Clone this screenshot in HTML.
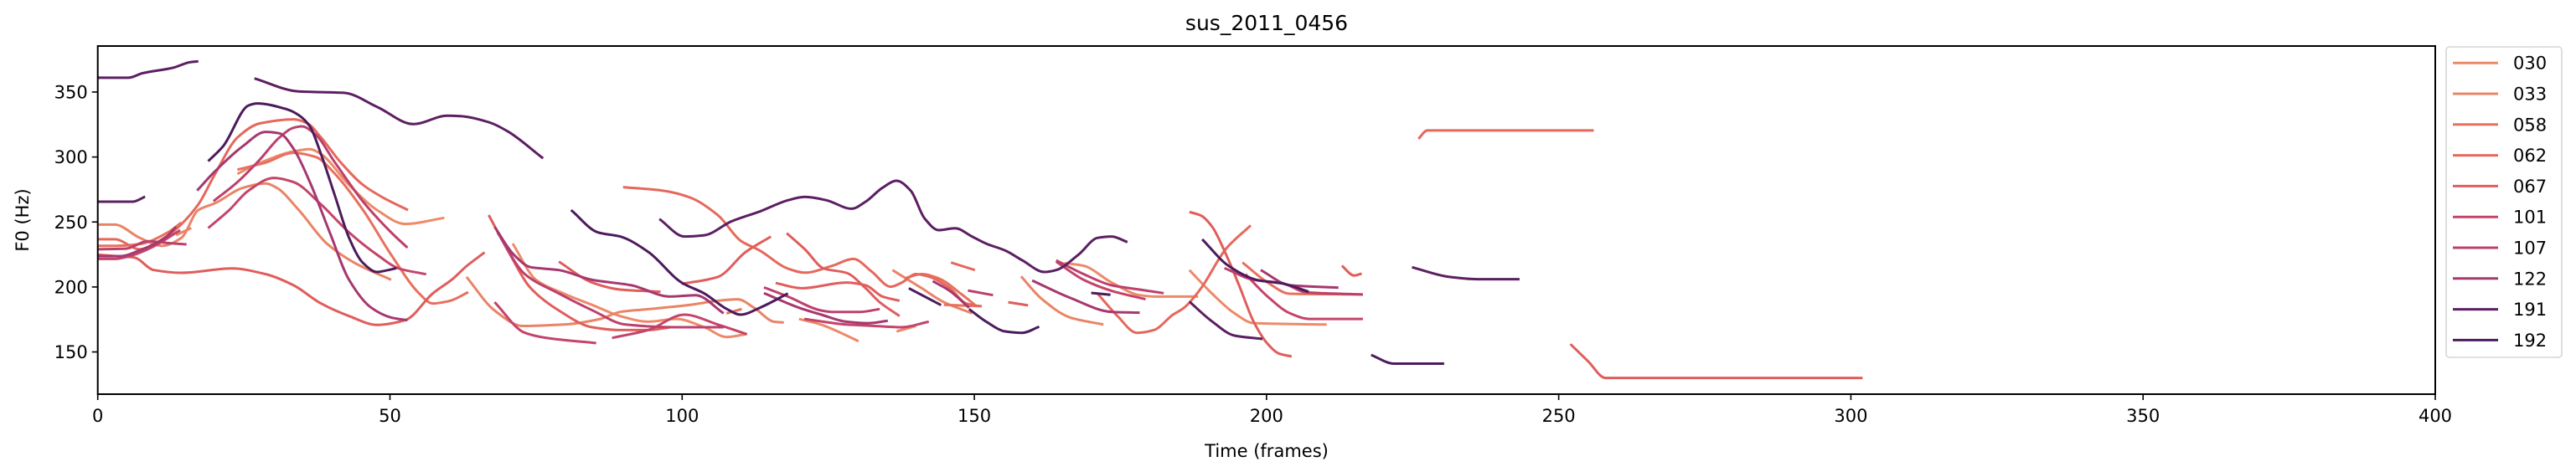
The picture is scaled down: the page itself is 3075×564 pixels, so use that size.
<!DOCTYPE html>
<html><head><meta charset="utf-8"><style>
html,body{margin:0;padding:0;background:#fff;}
svg{display:block;font-family:"DejaVu Sans","Liberation Sans",sans-serif;}
</style></head><body>
<svg id="chart" width="3075" height="564" viewBox="0 0 3075 564" xmlns="http://www.w3.org/2000/svg">
<text x="1512" y="36" font-size="25" text-anchor="middle">sus_2011_0456</text>
<g id="plot"></g>
<rect x="116.7" y="55" width="2790.3" height="416" fill="none" stroke="#000" stroke-width="2"/>
<g id="xt"></g>
<g id="yt"></g>
<text x="1512" y="546" font-size="21" text-anchor="middle">Time (frames)</text>
<text x="0" y="0" font-size="21" text-anchor="middle" transform="translate(34,263) rotate(-90)">F0 (Hz)</text>
<g id="legend"></g>
</svg>
<script>
const seriesNames = ["030","033","058","062","067","101","107","122","191","192"];
const seriesColors = ["#ec8a69","#ea8466","#e8705f","#e5685c","#df5e5c","#c4446a","#bd406c","#a6386f","#5b1f62","#4c1b5c"];
const xTicks = [0,50,100,150,200,250,300,350,400];
const yTicks = [150,200,250,300,350];
const s030 = [
 [[23.9,287],[26.8,293.6],[33.5,304.3],[36.3,306],[38.2,302.2],[43,278.5],[47.8,259.2],[52.6,248.5],[59.3,253.2]],
 [[71,233.4],[75,205.5],[79.8,194.8],[84.6,186.2],[89.4,177.6],[94.2,173.3],[99,175.4],[103.8,169],[107.6,161.5],[110.9,163.6]],
 [[120,175.4],[123.8,171],[127,165],[130.2,158.2]],
 [[136.7,165.8],[140,170]],
 [[165.4,218.4],[168.7,216.3],[173.5,203.4],[178.3,193.7],[181,192.6],[188.3,192.6]],
 [[186.8,213],[190.7,194.8],[194.5,179.8],[197.8,172.2],[210.3,171.1]]
];
const s033 = [
 [[0,248],[2.9,248],[7.2,237.8],[11,231.7],[14.3,237.8],[17.2,259.2],[20.1,264.5],[24.9,276.4],[28.7,279.6],[30.6,276.4],[34.4,259.2],[39.2,233.4],[44,218.4],[50.2,205.5]],
 [[13.4,239.9],[16,245.3]],
 [[63.1,207.7],[67.9,181.9],[72.7,170],[79.8,171.1],[86,175.4],[89.4,180.8],[94.2,182.9],[101.4,186.2],[106.1,189.4],[109.5,190.5],[112.3,184],[115.7,173.3],[117.4,172.6]],
 [[136,213],[141,199],[144.8,188.3],[149.6,179.7]],
 [[158,208.1],[161.6,190.5],[166.4,176.5],[172.1,171.1]]
];
const s058 = [
 [[23.9,290.3],[28.7,295.7],[33.5,303.2],[37.3,300],[40.6,287],[45.4,259.2],[50.2,224.8],[55,195],[57.3,187.3],[60.3,189.4],[63.4,196]],
 [[0,231.7],[2.9,231.7],[7.2,233],[12,242],[14.3,249.5]],
 [[138.1,206.6],[141,209.9],[143.9,206.6],[147.7,194.8],[150.1,186.2]],
 [[144.8,186.2],[151.3,185.2]],
 [[195.9,218.8],[200.2,203.4],[204,194.8],[216.5,194.2]],
 [[107.6,179.7],[110.2,183]]
];
const s062 = [
 [[0,236.7],[2.9,236.7],[7.2,229],[12,239.6],[14.3,248.3],[17.2,263.5],[20.1,287.1],[23.9,315],[27.7,325.8],[33.5,329],[35.9,325.8],[38.2,315],[41.6,295.7],[45.4,278.5],[49.2,267.8],[53.1,259.2]],
 [[226,314],[227.5,320.4],[256,320.4]],
 [[89.9,276.8],[96.6,274.2],[101.4,268.8],[106.2,254.9],[110,235.6],[113.3,228],[118.1,214.1],[121,211],[125.7,216.3],[129.3,221.6],[132.4,212],[135.7,200.2],[137.6,203.4],[140,209.9],[142.4,207.7],[145.8,199.1],[148.6,187.3],[151,185.2]],
 [[171.1,194.8],[174.5,177.6],[177.8,164.7],[180.7,166.8],[184,178.7],[185.9,184],[188.8,199],[193,229],[197.3,247.4]],
 [[146,218.8],[150.1,213]]
];
const s067 = [
 [[0,224.8],[2.9,223.8],[6.2,222.7],[9.6,213],[14.3,210.9],[23,214.2],[28.7,209.9],[33.5,201.3],[38.2,187.3],[43,177.6],[47.8,170.8],[52.6,174.4],[57.3,194.9],[60.7,206],[63.1,216],[66.2,226.6]],
 [[66.9,255.3],[70.3,227],[74.1,199],[78.9,181.9],[84.6,169],[89.4,166.8],[94.2,166.8],[98,169]],
 [[78.9,219.5],[84.6,203.4],[89.4,198],[96.3,196.3]],
 [[99.9,202.3],[106.1,207.7],[110.9,227],[115.2,238.8]],
 [[117.9,241.4],[121,229],[124.3,214.1],[128.1,210.9],[131.4,199],[133.8,188.3],[137.2,177.6]],
 [[116,203],[120.5,199],[128.1,203.4],[131.4,201.3],[134.3,192.6],[137.2,189.4]],
 [[155.8,188.3],[159.2,185.8]],
 [[186.8,257.7],[188.8,254.9],[190.7,246.3],[193.1,224.8],[195.5,199],[197.8,173.3],[200.2,156.2],[202.2,148.6],[204.3,146.5]],
 [[212.9,216.3],[215,208.8],[216.3,210.3]],
 [[252,156],[255,143],[258,130],[302,130]]
];
const s101 = [
 [[18.9,245.3],[22.5,259.2],[25.8,274.2],[30.1,283.9],[33.5,280.7],[38.2,263.5],[43,242],[47.8,224.8],[51.6,214.1],[56.2,209.8]],
 [[0,221.6],[2.9,221.6],[6.2,224.8],[9.6,231.3],[14.1,243.7]],
 [[67.9,188.3],[73.1,164.7],[77.4,160.4],[85.3,156.8]],
 [[88,160.8],[94.2,166.9],[100.4,178.7],[106.1,171.1],[111.1,163.6]],
 [[120.9,175.4],[128.1,171.1],[132.9,170],[137.6,169],[142.2,173.3]],
 [[164,219.5],[168.7,205.5],[173.5,197],[179.3,190.5]],
 [[196.4,209.8],[200.2,192.6],[204,179.8],[207.4,175.4],[216.5,175.4]]
];
const s107 = [
 [[19.8,266],[23.9,280.7],[27.7,297.8],[31.1,315],[33.5,322.5],[34.9,323.6],[37.3,317.1],[40.6,295.7],[45.4,265.6],[50.2,242],[53,230.2]],
 [[0,229],[4.8,229.5],[8.6,235.2],[12,233.8],[15.2,232.8]],
 [[68.4,242],[73.1,209.8],[78.9,195],[84.6,182.1],[90.3,171.1],[99,169],[107.1,169]],
 [[114,199.7],[118.1,192.6],[123.8,181.9],[125.7,180.8],[130.5,180.8],[133.8,183]],
 [[148.9,197.3],[153.2,193.7]],
 [[164,220.5],[168.7,209.9],[173.5,201.3],[178.3,198],[182.4,195.2]],
 [[192.8,214.5],[197.8,205.5],[202.6,203],[206.9,195.8],[216.5,194.2]]
];
const s122 = [
 [[17,274.2],[20.1,289.2],[24.9,308.6],[28.7,319.3],[31.1,318.2],[33.5,306.4],[36.3,280.7],[39.7,242],[43,205.5],[46.8,184],[50.2,176.5],[53,174.4]],
 [[0,223.7],[3.8,223.7],[7.6,229],[11.5,237.8],[13.4,246.3]],
 [[67.9,246.3],[71.2,224.8],[74.1,215.2],[78.9,213],[84.6,205.5],[91.3,201.3],[98,192.6],[102.3,193.7],[107.1,179.7]],
 [[114,195.2],[120,184],[123.8,178.7],[128.1,173.3],[131.9,172.2],[135.2,174]],
 [[142.9,204.5],[145.8,197],[149.1,184]],
 [[159.9,205],[166.4,191.6],[173.5,180.8],[178.3,180.2]],
 [[199,213],[204,201.3],[212.3,199.5]]
];
const s191 = [
 [[0,361],[5.3,361],[7.6,364.4],[12.9,368.7],[15.8,373],[17.2,373.6]],
 [[0,265.6],[6,265.6],[8.1,269.5]],
 [[26.8,360.5],[34.4,350.4],[42.1,349.4],[47.8,338.6],[54,325.3],[59.8,331.8],[62,331.5],[66.9,326.8],[70.3,319.3],[76.2,299]],
 [[96.1,252.3],[100.4,238.8],[103.8,239.8],[108.5,250.6],[113.3,258.1],[118.1,266.7],[121,269.3],[124.7,266.7],[129,260.2],[131.4,265.6],[134.3,276.4],[136.7,281.7],[139.1,274.2],[141.5,252.7],[143.9,243.7],[146.7,245.2],[149.6,238.8],[152,233.4],[155.3,228],[158.2,220.5],[162,211.5],[164,213],[167.8,224.8],[171.1,237.8],[173.5,238.8],[176.2,234.5]],
 [[224.9,215.2],[231.3,207.7],[236.1,206],[243.3,206]],
 [[186.8,188.7],[190.7,173.4],[194.5,162.6],[199.3,160]]
];
const s192 = [
 [[18.9,296.8],[21.5,308.6],[25.8,339.7],[27.3,341.2],[32.5,336.5],[34.4,332.2],[36.3,323.6],[38.2,302.2],[40.6,270],[43,237.8],[45.4,218.4],[47.8,211.5],[49.7,213],[51.1,214.5]],
 [[81,259.2],[85.6,242],[89.4,238.8],[94.2,227],[99.9,203.4],[103.8,195],[107.6,183.1],[110,178.7],[113.3,184],[118.1,195]],
 [[138.8,199],[144.3,186]],
 [[149.1,183],[152,173.4],[155.3,165.8],[158.2,164.7],[161.1,169.4]],
 [[170,195.4],[173.3,194]],
 [[189,236.7],[193.5,216.3],[198.3,205.5],[203.1,202.3],[207.2,196.3]],
 [[217.9,147.7],[221.8,141],[230.4,141]]
];
const allSeries = [s030,s033,s058,s062,s067,s101,s107,s122,s191,s192];

const NS = "http://www.w3.org/2000/svg";
const X0 = 116.7, X1 = 2907, Y0 = 471, Y1 = 55, XMIN = 0, XMAX = 400, YMIN = 117.5, YMAX = 385.4;
function xs(v){ return X0 + (v - XMIN) / (XMAX - XMIN) * (X1 - X0); }
function ys(v){ return Y0 - (v - YMIN) / (YMAX - YMIN) * (Y0 - Y1); }
function mk(tag, attrs){ const e = document.createElementNS(NS, tag); for (const k in attrs) e.setAttribute(k, attrs[k]); return e; }
function smoothPath(pts){
  const n = pts.length;
  let d = 'M' + pts[0][0].toFixed(1) + ',' + pts[0][1].toFixed(1);
  if (n < 3) { for (let i = 1; i < n; i++) d += ' L' + pts[i][0].toFixed(1) + ',' + pts[i][1].toFixed(1); return d; }
  const ds = [];
  for (let i = 0; i < n - 1; i++) ds.push((pts[i+1][1] - pts[i][1]) / Math.max(1e-6, pts[i+1][0] - pts[i][0]));
  const m = [];
  for (let i = 0; i < n; i++) {
    if (i === 0) m.push(ds[0]);
    else if (i === n - 1) m.push(ds[n - 2]);
    else { const a = ds[i-1], b = ds[i]; m.push(a * b <= 0 ? 0 : 2 / (1 / a + 1 / b)); }
  }
  for (let i = 0; i < n - 1; i++) {
    const p1 = pts[i], p2 = pts[i+1], h = (p2[0] - p1[0]) / 3;
    d += ' C' + (p1[0] + h).toFixed(1) + ',' + (p1[1] + m[i] * h).toFixed(1) + ' ' + (p2[0] - h).toFixed(1) + ',' + (p2[1] - m[i+1] * h).toFixed(1) + ' ' + p2[0].toFixed(1) + ',' + p2[1].toFixed(1);
  }
  return d;
}

const plot = document.getElementById('plot');
allSeries.forEach((segs, si) => {
  const g = mk('g', {});
  
  
  segs.forEach((seg) => {
    const pts = seg.map(p => [xs(p[0]), ys(p[1])]);
    const pl = mk('path', {d: smoothPath(pts), fill: 'none', stroke: seriesColors[si], 'stroke-width': 3, 'stroke-linejoin': 'round'});
    
    
    g.appendChild(pl);
  });
  plot.appendChild(g);
});

const xt = document.getElementById('xt');
xTicks.forEach(t => {
  const x = xs(t);
  const ln = mk('line', {x1: x, x2: x, y1: Y0, y2: Y0 + 7, stroke: '#000', 'stroke-width': 1.6});
  
  
  xt.appendChild(ln);
  const tx = mk('text', {x: x, y: 504, 'font-size': 21, 'text-anchor': 'middle'});
  
  
  tx.textContent = t;
  xt.appendChild(tx);
});
const yt = document.getElementById('yt');
yTicks.forEach(t => {
  const y = ys(t);
  const ln = mk('line', {x1: X0 - 7, x2: X0, y1: y, y2: y, stroke: '#000', 'stroke-width': 1.6});
  
  
  yt.appendChild(ln);
  const tx = mk('text', {x: X0 - 12, y: y + 7.5, 'font-size': 21, 'text-anchor': 'end'});
  
  
  tx.textContent = t;
  yt.appendChild(tx);
});

const lg = document.getElementById('legend');
const box = mk('rect', {x: 2920, y: 56, width: 138, height: 371, rx: 4, fill: '#fff', stroke: '#d6d6d6', 'stroke-width': 1.6});


lg.appendChild(box);
seriesNames.forEach((n, i) => {
  const y = 75.2 + i * 36.8;
  const ln = mk('line', {x1: 2928, x2: 2982, y1: y, y2: y, stroke: seriesColors[i], 'stroke-width': 3});
  
  
  lg.appendChild(ln);
  const tx = mk('text', {x: 3000, y: y + 7.5, 'font-size': 21});
  
  
  tx.textContent = n;
  lg.appendChild(tx);
});
</script>
</body></html>
